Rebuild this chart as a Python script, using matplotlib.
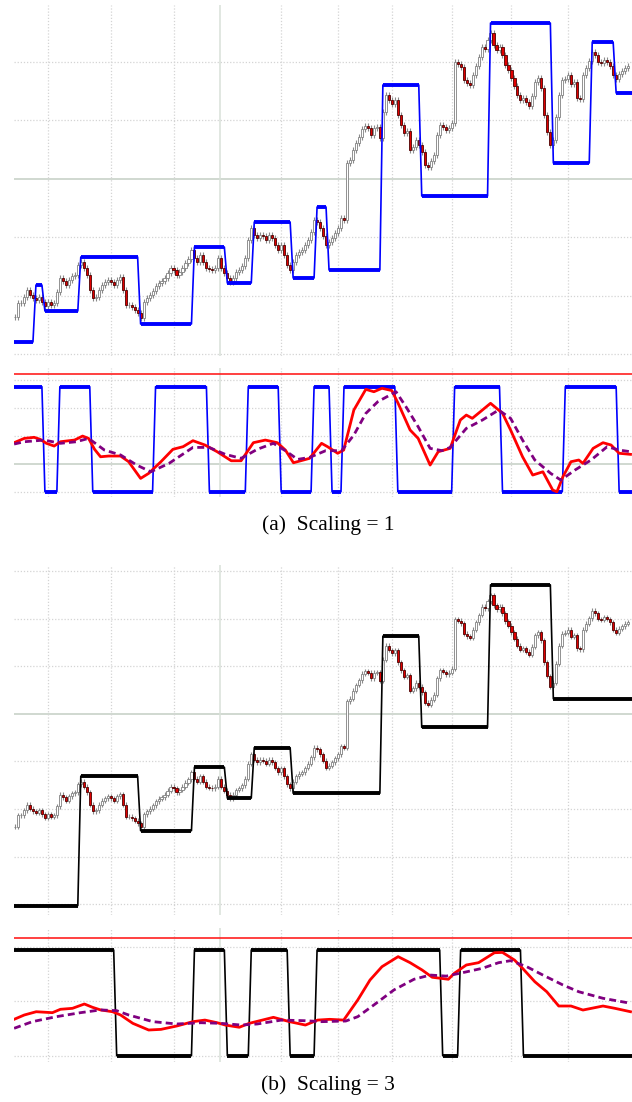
import numpy as np
import matplotlib
matplotlib.use('Agg')
import matplotlib.pyplot as plt

W, H = 632, 1102

# close prices, one per bar (same series in both panels)
closes = [
    43, 57, 57, 63, 70, 65, 62, 60, 63, 58, 54, 58, 55, 57, 68, 82, 79, 75, 80, 84,
    85, 95, 98, 92, 85, 70, 62, 63, 70, 75, 78, 80, 78, 75, 80, 83, 70, 55, 55, 53,
    50, 47, 42, 58, 62, 65, 69, 74, 77, 79, 82, 87, 92, 90, 85, 88, 92, 97, 101, 110,
    102, 98, 105, 98, 92, 91, 90, 92, 102, 92, 87, 82, 78, 82, 88, 90, 94, 102, 120, 132,
    125, 122, 125, 124, 120, 125, 122, 115, 110, 115, 105, 95, 90, 98, 105, 108, 110, 115, 120, 128,
    140,
    138, 132, 124, 115, 118, 122, 127, 132, 142, 140, 197, 200, 210, 217, 223, 231, 234, 232, 225, 232,
    233, 222, 248, 265, 260, 256, 260, 245, 235, 227, 229, 210, 213, 220, 215, 208, 195, 193, 199, 205,
    225, 235, 233, 230, 232, 237, 298, 296, 293, 280, 277, 275, 285, 294, 303, 313, 311, 320, 327, 315,
    310, 313, 305, 295, 290, 282, 274, 265, 260, 262, 258, 254, 264, 278, 282, 272, 245, 228, 215, 220,
    243, 265, 280, 281, 285, 276, 278, 262, 261, 285, 292, 299, 308, 305, 298, 297, 300, 298, 294, 285,
    281, 286, 289, 292, 294,
]

# stop / channel step lines (level, bar index where it switches)
step_a_levels = [18, 75, 49, 103, 36, 113, 77, 138, 82, 153, 90, 275, 164, 337, 197, 318, 267]
step_a_changes = [6, 9, 21, 41, 59, 70, 79, 92, 100, 104, 122, 135, 158, 179, 192, 200]
step_b_levels = [-54, 105, 38, 116, 78, 140, 84, 277, 165, 340, 200]
step_b_changes = [21, 41, 59, 70, 79, 92, 122, 135, 158, 179]

# regime signal in the lower panels (starts high, then alternates)
sig_a_changes = [9, 14, 25, 46, 64, 77, 88, 99, 105, 109, 127, 146, 162, 183, 201]
sig_b_changes = [33, 59, 70, 78, 91, 100, 142, 148, 169]

# oscillator lines, panel (a)
red_a_x = [-0.3, 3.1, 6.4, 8.4, 10.5, 13.1, 15.2, 17.2, 19.9, 22.6, 24.6, 26.6, 28.6, 31.3, 35.3, 38, 42,
           44.7, 48.8, 52.8, 56.2, 59.5, 63.5, 67.6, 72.3, 75.6, 79.7, 83.7, 87.7, 90.4, 93.1, 98.5, 102.5,
           104.5, 107.9, 109.9, 113.3, 117.3, 120, 122.7, 126, 128.1, 132.1, 134.8, 138.8, 141.5, 145.5,
           148.9, 150.9, 152.9, 155.6, 159, 163, 165.7, 169.7, 173.1, 176.5, 179.8, 181.2, 183.2, 185.9,
           188.5, 189.9, 193.3, 196.6, 199.3, 202, 205.8]
red_a_v = [46.7, 50.8, 51.8, 49.9, 46.1, 43.5, 47.6, 48.3, 49.2, 53, 50.8, 40.4, 33.3, 34, 34, 28.6, 12.7,
           17.5, 28.6, 40.4, 42.9, 48.6, 44.5, 38.1, 29.5, 29.5, 46.7, 49.2, 46.7, 39.7, 27.6, 31.8, 46.1,
           42.9, 36.6, 39.7, 77.8, 97.5, 95.2, 98.5, 96.3, 84.2, 58.8, 50.8, 25.4, 38.1, 41.3,
           68.3, 73, 69.9, 76.2, 84.2, 74.7, 58.8, 33.3, 15.9, 19, 1.6, 0, 14.3, 28.6,
           30.2, 27, 41.3, 46.7, 44.5, 36.6, 35.6]
pur_a_x = [-0.3, 3.1, 9.8, 15.2, 20.5, 24.6, 29.9, 35.3, 40.7, 45.4, 51.5, 59.5, 64.9, 70.3, 75.6, 81,
           86.4, 90.4, 94.5, 98.5, 103.9, 109.2, 113.3, 117.3, 121.3, 127.4, 130.7, 134.8, 138.8, 142.8,
           145.5, 150.9, 156.3, 161.7, 165.7, 169.7, 173.8, 179.1, 182.5, 187.2, 192.6, 198, 202, 205.8]
pur_a_v = [45.4, 47.6, 49.2, 46.1, 47.6, 50.8, 39.7, 35, 25.4, 19, 27, 42.2, 42.2, 35.6, 31.8, 40.4,
           46.1, 39.1, 30.8, 32.7, 39.1, 39.1, 54, 74.6, 85.7, 95.2, 81, 61.9, 41.3, 39.1,
           42.2, 60.3, 68.3, 77.8, 69.9, 49.2, 30.2, 17.5, 11.1, 20.6, 30.2, 42.9, 39.7, 38.1]

# oscillator lines, panel (b)
red_b_x = [-0.3, 3.1, 7.1, 12.5, 15.2, 19.2, 23.2, 25.9, 28.6, 32.6, 35.3, 39.4, 44.7, 48.8, 54.1, 59.5,
           63.5, 67.6, 70.3, 75, 78.3, 86.4, 91.8, 97.1, 101.2, 105.2, 109.9, 114.6, 118.7, 122.7, 128.1,
           132.1, 136.1, 139.5, 144.9, 146.9, 150.9, 155, 160.3, 163, 167, 169.7, 173.8, 177.8, 181.8,
           185.9, 189.9, 196.6, 200.6, 205.8]
red_b_v = [34.4, 38.5, 41.6, 40.7, 43.9, 44.8, 48.9, 45.8, 43.3, 41.6, 38.5, 30.6, 24.3, 24.9, 28.1, 32.2,
           33.7, 31.2, 29, 26.9, 30.6, 36.3, 32.2, 29, 33.7, 34.4, 33.7, 52.7, 71.6, 84.2, 93.7,
           88, 81.1, 74.2, 72.3, 78, 85.8, 88, 97.4, 97.7, 90.5, 82.7, 70, 60.5, 47,
           47, 43.2, 47, 44.8, 41.6]
pur_b_x = [-0.3, 5.8, 13.8, 21.9, 28.6, 34, 38, 42, 46.1, 54.1, 62.2, 68.9, 75.6, 81, 89.1, 97.1, 102.5,
           110.6, 114.6, 120, 126.7, 133.4, 138.8, 144.2, 149.6, 156.3, 161.7, 165.7, 171.1, 176.5,
           183.2, 188.5, 196.6, 205.8]
pur_b_v = [25.9, 32.2, 36.9, 40.7, 43.3, 42.6, 38.5, 35.4, 32.2, 30, 31.2, 30.6, 29, 30, 33.7, 33.1, 32.2,
           32.8, 36.9, 48, 62.2, 72.3, 76.3, 75.3, 78.5, 82.7, 88, 89.9, 84.2, 76.3,
           66.9, 60.5, 54.3, 49.6]

price_grid = [-52.5, 6, 64.5, 123, 240, 298.5, 357]
price_mid = 181.5
bar_grid = [11, 32, 53, 89, 108, 126, 146, 166, 185]
bar_mid = 68.5

XLIM = (-1 / 3, 206.3)
DOT = '#d4d4d4'
SOLID = '#c4cec4'


def px_axes(fig, left, top, right, bottom):
    ax = fig.add_axes([left / W, 1 - bottom / H, (right - left) / W, (bottom - top) / H])
    ax.set_axis_off()
    ax.set_xlim(*XLIM)
    return ax


def step_path(levels, changes, x0, x1):
    xs, ys = [x0], [levels[0]]
    for k, c in enumerate(changes):
        xs += [c, c + 1]
        ys += [levels[k], levels[k + 1]]
    xs.append(x1)
    ys.append(levels[-1])
    return xs, ys


def draw_step(ax, levels, changes, color):
    xs, ys = step_path(levels, changes, XLIM[0], XLIM[1])
    ax.plot(xs, ys, color=color, lw=1.2, zorder=5)
    starts = [XLIM[0]] + [c + 1 for c in changes]
    ends = list(changes) + [XLIM[1]]
    ax.hlines(levels, starts, ends, color=color, lw=2.8, zorder=5)


def draw_grid(ax, hlines, hsolid=None):
    for y in hlines:
        ax.axhline(y, color=DOT, lw=0.9, ls=(0, (1, 1.5)), zorder=0)
    if hsolid is not None:
        ax.axhline(hsolid, color=SOLID, lw=1.1, zorder=0)
    for x in bar_grid:
        ax.axvline(x, color=DOT, lw=0.9, ls=(0, (1, 1.5)), zorder=0)
    ax.axvline(bar_mid, color='#d8e0d8', lw=1.1, zorder=0)


def draw_candles(ax, wick):
    c = np.array(closes, dtype=float)
    o = np.r_[c[0], c[:-1]]
    idx = np.arange(len(c))
    lo = np.minimum(o, c)
    hi = np.maximum(o, c)
    up = c >= o
    ax.vlines(idx, lo - wick, hi + wick, color='#8a8a8a', lw=0.8, zorder=2)
    ax.bar(idx[up], (hi - lo)[up], bottom=lo[up], width=0.7, color='white',
           edgecolor='#808080', lw=0.6, zorder=3)
    ax.bar(idx[~up], (hi - lo)[~up], bottom=lo[~up], width=0.7, color='#e00000',
           edgecolor='#4a0000', lw=0.6, zorder=3)


def square(changes):
    return [100 if k % 2 == 0 else 0 for k in range(len(changes) + 1)]


fig = plt.figure(figsize=(W / 100, H / 100), dpi=100)

# ---- (a) price
ax1 = px_axes(fig, 14, 5, 632, 356)
ax1.set_ylim(4, 355)
draw_grid(ax1, price_grid, price_mid)
draw_candles(ax1, 3)
draw_step(ax1, step_a_levels, step_a_changes, '#0000ff')

# ---- (a) oscillator
ax2 = px_axes(fig, 14, 368, 632, 497)
ax2.set_ylim(-5.0, 117.8)
draw_grid(ax2, [0, 53.3, 80, 106.7], 26.7)
ax2.axhline(111.8, color='#ff2020', lw=1.2, zorder=4)
draw_step(ax2, square(sig_a_changes), sig_a_changes, '#0000ff')
ax2.plot(red_a_x, red_a_v, color='#ff0000', lw=2, zorder=6)
ax2.plot(pur_a_x, pur_a_v, color='#800080', lw=2, ls=(0, (2.5, 1.5)), zorder=6)

fig.text(328 / W, 1 - 525 / H, '(a)  Scaling = 1', ha='center', va='center',
         family='Liberation Serif', fontsize=15.5)

# ---- (b) price
ax3 = px_axes(fig, 14, 565, 632, 915)
ax3.set_ylim(-65.6, 364.4)
draw_grid(ax3, price_grid, price_mid)
draw_candles(ax3, 3)
draw_step(ax3, step_b_levels, step_b_changes, '#000000')

# ---- (b) oscillator
ax4 = px_axes(fig, 14, 928, 632, 1062)
ax4.set_ylim(-5.96, 120.8)
draw_grid(ax4, [0, 51.7, 103])
ax4.axhline(111, color='#ff2020', lw=1.2, zorder=4)
draw_step(ax4, square(sig_b_changes), sig_b_changes, '#000000')
ax4.plot(red_b_x, red_b_v, color='#ff0000', lw=2, zorder=6)
ax4.plot(pur_b_x, pur_b_v, color='#800080', lw=2, ls=(0, (2.5, 1.5)), zorder=6)

fig.text(328 / W, 1 - 1085 / H, '(b)  Scaling = 3', ha='center', va='center',
         family='Liberation Serif', fontsize=15.5)

fig.savefig('out.png', dpi=100)
